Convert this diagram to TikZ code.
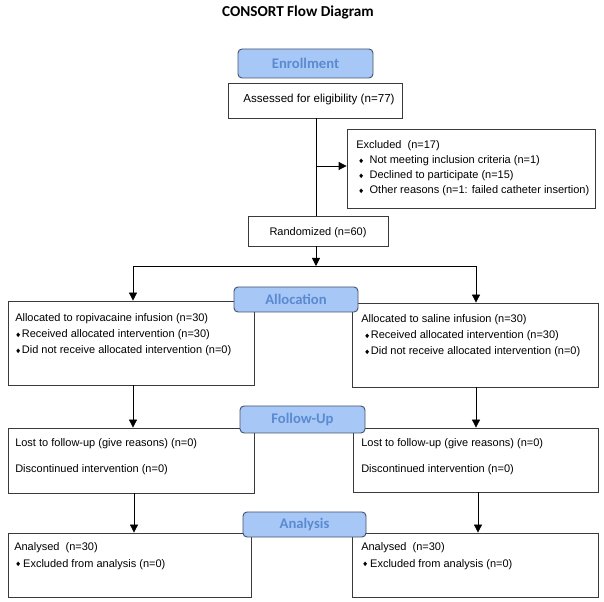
\documentclass[tikz,border=0pt]{standalone}
\usepackage{fontspec}
\setmainfont{Liberation Sans}
\newfontfamily\calfont{Carlito}
\usetikzlibrary{arrows.meta,fit}
\definecolor{labfill}{HTML}{A7C7F7}
\definecolor{labtext}{HTML}{5A8AD0}
\definecolor{labborder}{HTML}{44546A}
\definecolor{boxline}{HTML}{3A3A3A}
\newcommand\dia[1][1.4pt]{\tikz[baseline=0pt]\fill (0pt,2.4pt) -- (1.4pt,4.1pt) -- (2.8pt,2.4pt) -- (1.4pt,0.7pt) -- cycle;\hspace{#1}}
\begin{document}
\begin{tikzpicture}[x=0.75pt,y=-0.75pt,
  box/.style={draw=boxline, line width=0.6pt, fill=white, inner sep=0pt},
  lab/.style={draw=labborder, fill=labfill, rounded corners=3pt, line width=0.7pt, inner sep=0pt,
    font=\calfont\bfseries\fontsize{11}{13}\selectfont, text=labtext},
  txt/.style={anchor=base west, inner sep=0pt, font=\fontsize{8.25}{10}\selectfont},
  arr/.style={draw=black, line width=0.6pt, -{Triangle[length=6pt,width=6pt]}},
  ln/.style={draw=black, line width=0.6pt}]
\useasboundingbox (0,0) rectangle (604,602);

\node[font=\calfont\bfseries\fontsize{11.4}{13}\selectfont] (title) at (298,12) {CONSORT Flow Diagram};

% boxes
\node[box, fit={(228,83) (402,118)}] (assess) {};
\node[box, fit={(347,129) (595,208)}] (excl) {};
\node[box, fit={(248,216) (388,246)}] (rand) {};
\node[box, fit={(8,301) (254,385)}] (allocL) {};
\node[box, fit={(352,303) (598,387)}] (allocR) {};
\node[box, fit={(8,428) (254,493)}] (fuL) {};
\node[box, fit={(353,428) (598,492)}] (fuR) {};
\node[box, fit={(8,533) (251,597)}] (anL) {};
\node[box, fit={(352,533) (598,597)}] (anR) {};

% stage labels
\node[lab, minimum width=101.25pt, minimum height=21.75pt] (enroll) at (305.5,63.5) {Enrollment};
\node[lab, minimum width=93pt, minimum height=18.75pt] (alloc) at (296,299.5) {Allocation};
\node[lab, minimum width=93.75pt, minimum height=20.25pt] (follow) at (302.5,419.5) {Follow-Up};
\node[lab, minimum width=92.25pt, minimum height=18.75pt] (analysis) at (304.5,524.5) {Analysis};

% texts
\node[txt, anchor=base, font=\fontsize{8.7}{10}\selectfont] (tAssess) at (319,103) {Assessed for eligibility (n=77)};
\node[txt] (tEx0) at (356,149) {Excluded\ \ (n=17)};
\node[txt] (tEx1) at (359,164) {\dia[5pt]Not meeting inclusion criteria (n=1)};
\node[txt] (tEx2) at (359,179) {\dia[5pt]Declined to participate (n=15)};
\node[txt] (tEx3) at (359,194) {\dia[5pt]Other reasons (n=1: failed catheter insertion)};
\node[txt, anchor=base] (tRand) at (318,236) {Randomized (n=60)};

\node[txt] (tAL0) at (15,322) {Allocated to ropivacaine infusion (n=30)};
\node[txt] (tAL1) at (16,338) {\dia Received allocated intervention (n=30)};
\node[txt] (tAL2) at (16,354) {\dia Did not receive allocated intervention (n=0)};
\node[txt] (tAR0) at (361,323) {Allocated to saline infusion (n=30)};
\node[txt] (tAR1) at (365,339) {\dia Received allocated intervention (n=30)};
\node[txt] (tAR2) at (365,355) {\dia Did not receive allocated intervention (n=0)};

\node[txt] (tFL0) at (15,447) {Lost to follow-up (give reasons) (n=0)};
\node[txt] (tFL1) at (15,473) {Discontinued intervention (n=0)};
\node[txt] (tFR0) at (361,447) {Lost to follow-up (give reasons) (n=0)};
\node[txt] (tFR1) at (361,473) {Discontinued intervention (n=0)};

\node[txt] (tNL0) at (14,551) {Analysed\ \ (n=30)};
\node[txt] (tNL1) at (16,567) {\dia[2.4pt]Excluded from analysis (n=0)};
\node[txt] (tNR0) at (361,551) {Analysed\ \ (n=30)};
\node[txt] (tNR1) at (363,567) {\dia[2.4pt]Excluded from analysis (n=0)};

% connectors
\coordinate (exm) at (316,166);
\coordinate (sj) at (316,266);
\coordinate (sL) at (133,266);
\coordinate (sR) at (476,266);
\draw[ln] (assess.south -| 316,0) -- (rand.north -| 316,0);
\draw[arr] (exm) -- (excl.west |- exm);
\draw[arr] (rand.south -| 316,0) -- (sj);
\draw[ln] (sL) -- (sR);
\draw[arr] (sL) -- (allocL.north -| sL);
\draw[arr] (sR) -- (allocR.north -| sR);
\draw[arr] (allocL.south -| 133,0) -- (fuL.north -| 133,0);
\draw[arr] (allocR.south -| 476,0) -- (fuR.north -| 476,0);
\draw[arr] (fuL.south -| 134,0) -- (anL.north -| 134,0);
\draw[arr] (fuR.south -| 478,0) -- (anR.north -| 478,0);
\end{tikzpicture}
\end{document}
